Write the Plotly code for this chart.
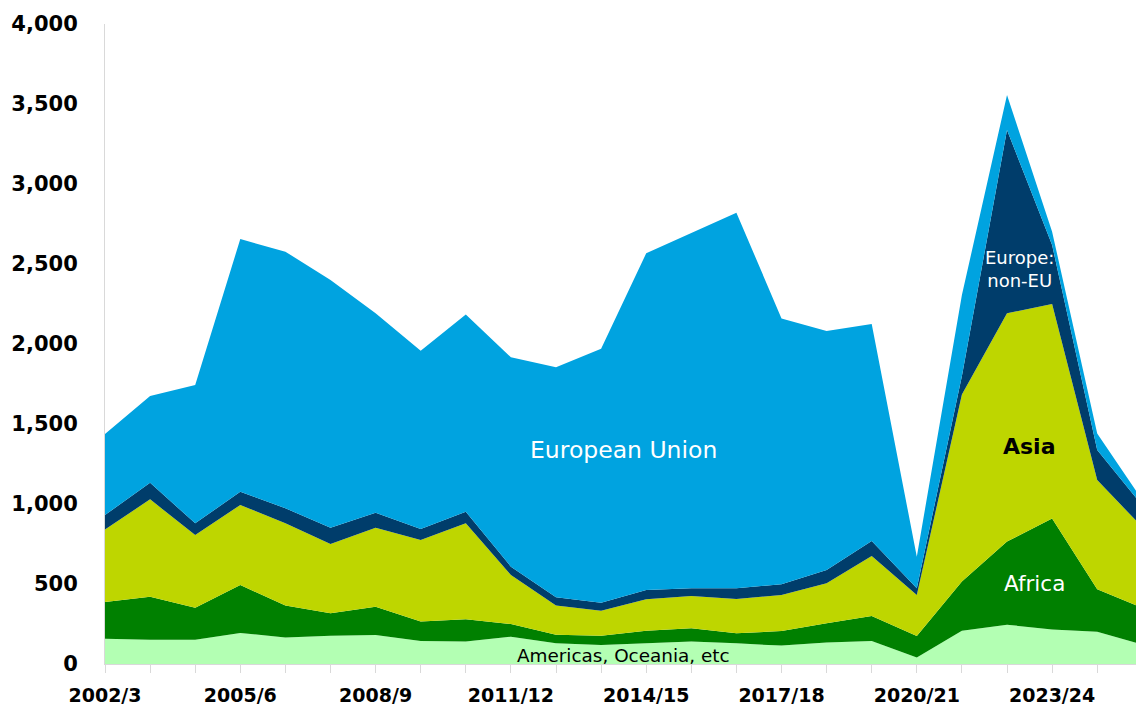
import plotly.graph_objects as go

years = ["2002/3", "2003/4", "2004/5", "2005/6", "2006/7", "2007/8", "2008/9", "2009/10",
         "2010/11", "2011/12", "2012/13", "2013/14", "2014/15", "2015/16", "2016/17",
         "2017/18", "2018/19", "2019/20", "2020/21", "2021/22", "2022/23", "2023/24",
         "2024/25", "2025/26"]

americas = [158, 152, 152, 194, 165, 177, 181, 144, 140, 171, 129, 119, 129, 140, 129,
            115, 135, 144, 40, 208, 246, 215, 202, 121]
africa = [229, 269, 200, 300, 200, 140, 177, 121, 139, 79, 54, 58, 79, 83, 63,
          91, 119, 156, 135, 307, 519, 695, 265, 230]
asia = [454, 608, 454, 500, 514, 433, 494, 510, 600, 306, 182, 156, 196, 202, 214,
        225, 250, 375, 256, 1170, 1427, 1340, 683, 504]
europe_non_eu = [90, 104, 73, 83, 94, 102, 94, 69, 73, 52, 52, 50, 58, 48, 67,
                 67, 83, 94, 42, 115, 1145, 369, 187, 135]
european_union = [506, 542, 865, 1579, 1604, 1548, 1246, 1114, 1233, 1309, 1437, 1588, 2105, 2219, 2348,
                  1662, 1494, 1356, 198, 506, 219, 83, 104, 34]

labelled_years = ["2002/3", "2005/6", "2008/9", "2011/12", "2014/15", "2017/18", "2020/21", "2023/24"]
y_ticks = [0, 500, 1000, 1500, 2000, 2500, 3000, 3500, 4000]

series = [
    ("Americas, Oceania, etc", americas, "#B3FFB3"),
    ("Africa", africa, "#008000"),
    ("Asia", asia, "#BED600"),
    ("Europe: non-EU", europe_non_eu, "#003D6B"),
    ("European Union", european_union, "#00A3E0"),
]

fig = go.Figure()
for name, vals, col in series:
    fig.add_trace(go.Scatter(
        x=years, y=vals, name=name, stackgroup="one", mode="lines",
        line=dict(width=0, color=col), fillcolor=col, hoverinfo="x+y+name"))

FONT = "DejaVu Sans"

def ann(text, x, y, size, color, bold=False):
    t = f"<b>{text}</b>" if bold else text
    fig.add_annotation(x=x, y=y, xref="x", yref="y", text=t, showarrow=False,
                       font=dict(family=FONT, size=size, color=color),
                       xanchor="center", yanchor="middle")

ann("European Union", 11.49, 1340, 23.5, "white")
ann("Europe:<br>non-EU", 20.28, 2469, 18, "white")
ann("Asia", 20.49, 1360, 22, "black", bold=True)
ann("Africa", 20.6, 506, 21.5, "white")
ann("Americas, Oceania, etc", 11.49, 52, 18.4, "black")

fig.update_layout(
    width=1136, height=706,
    margin=dict(l=105, r=0, t=24, b=42, autoexpand=False),
    paper_bgcolor="white", plot_bgcolor="white",
    showlegend=False,
    font=dict(family=FONT, color="black"),
)
fig.update_xaxes(
    type="category", range=[0, 22.86],
    tickmode="array", tickvals=years,
    ticktext=[y if y in labelled_years else "" for y in years],
    ticks="outside", ticklen=8, tickcolor="#D9D9D9", tickwidth=1,
    showline=True, linecolor="#D9D9D9", linewidth=1,
    showgrid=False, zeroline=False,
    tickfont=dict(family=FONT, size=19, color="black", weight="bold"),
    ticklabelstandoff=6,
)
fig.update_yaxes(
    range=[0, 4000], tickmode="array", tickvals=y_ticks,
    tickformat=",d",
    showline=True, linecolor="#D9D9D9", linewidth=1,
    showgrid=False, zeroline=False, ticks="",
    tickfont=dict(family=FONT, size=21, color="black", weight="bold"),
    ticklabelstandoff=22,
)

fig.write_html("out.html",
               config={"displayModeBar": False},
               post_script="document.body.style.margin='0';document.body.style.overflow='hidden';")
